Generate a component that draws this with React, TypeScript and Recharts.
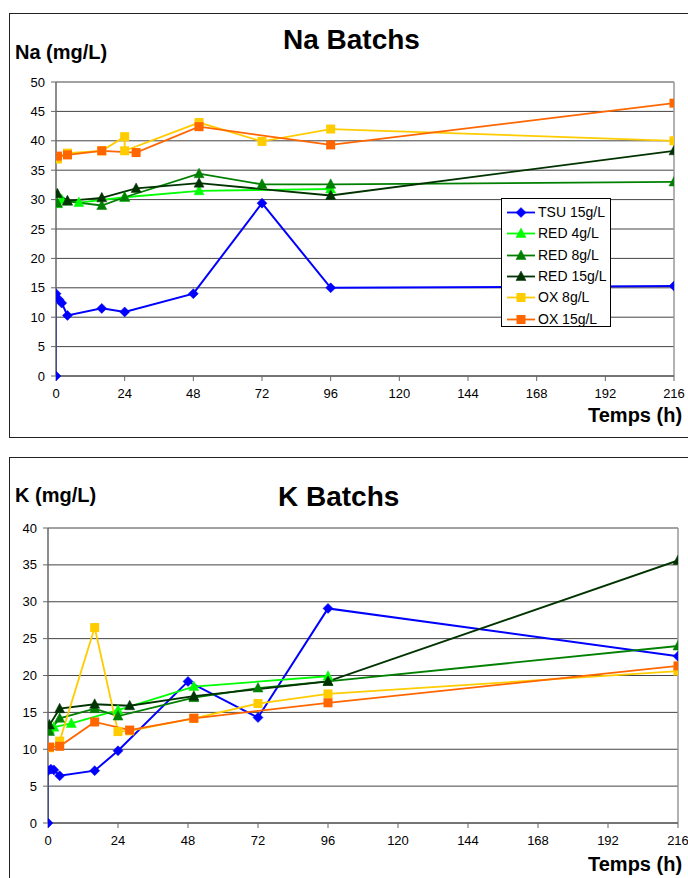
import React from 'react';
import { LineChart, Line, XAxis, YAxis, CartesianGrid, ReferenceLine } from 'recharts';

const timeTicks = [0, 24, 48, 72, 96, 120, 144, 168, 192, 216];
const naTicks = [0, 5, 10, 15, 20, 25, 30, 35, 40, 45, 50];
const kTicks = [0, 5, 10, 15, 20, 25, 30, 35, 40];

const seriesNames = ['TSU 15g/L', 'RED 4g/L', 'RED 8g/L', 'RED 15g/L', 'OX 8g/L', 'OX 15g/L'];
const seriesColors = ['#0000FF', '#00FF00', '#008000', '#003300', '#FFCC00', '#FF6600'];
const seriesMarkers = ['diamond', 'triangle', 'triangle', 'triangle', 'square', 'square'];

// Na (mg/L)
const naTsu15 = [
  { t: 0, v: 0 }, { t: 0, v: 14.0 }, { t: 1, v: 13.0 }, { t: 2, v: 12.4 }, { t: 4, v: 10.3 },
  { t: 16, v: 11.5 }, { t: 24, v: 10.9 }, { t: 48, v: 14.0 }, { t: 72, v: 29.4 }, { t: 96, v: 15.0 }, { t: 216, v: 15.3 },
];
const naRed4 = [
  { t: 0.5, v: 29.3 }, { t: 2, v: 30.0 }, { t: 8, v: 29.5 }, { t: 24, v: 30.4 }, { t: 50, v: 31.5 }, { t: 96, v: 31.8 },
];
const naRed8 = [
  { t: 0.5, v: 29.4 }, { t: 4, v: 29.7 }, { t: 16, v: 29.0 }, { t: 24, v: 30.4 }, { t: 50, v: 34.4 },
  { t: 72, v: 32.6 }, { t: 96, v: 32.6 }, { t: 216, v: 33.0 },
];
const naRed15 = [
  { t: 0.5, v: 31.0 }, { t: 4, v: 29.8 }, { t: 16, v: 30.3 }, { t: 28, v: 31.9 }, { t: 50, v: 32.8 },
  { t: 96, v: 30.7 }, { t: 216, v: 38.3 },
];
const naOx8 = [
  { t: 0.5, v: 36.9 }, { t: 4, v: 37.9 }, { t: 16, v: 38.3 }, { t: 24, v: 40.7 }, { t: 24, v: 38.3 },
  { t: 50, v: 43.1 }, { t: 72, v: 39.9 }, { t: 96, v: 42.0 }, { t: 216, v: 40.0 },
];
const naOx15 = [
  { t: 0.5, v: 37.4 }, { t: 4, v: 37.6 }, { t: 16, v: 38.3 }, { t: 28, v: 38.0 }, { t: 50, v: 42.4 },
  { t: 96, v: 39.3 }, { t: 216, v: 46.4 },
];

// K (mg/L)
const kTsu15 = [
  { t: 0, v: 0 }, { t: 0, v: 7.1 }, { t: 1, v: 7.3 }, { t: 2, v: 7.2 }, { t: 4, v: 6.4 },
  { t: 16, v: 7.1 }, { t: 24, v: 9.8 }, { t: 48, v: 19.2 }, { t: 72, v: 14.3 }, { t: 96, v: 29.1 }, { t: 216, v: 22.6 },
];
const kRed4 = [
  { t: 0.5, v: 12.7 }, { t: 2, v: 13.0 }, { t: 8, v: 13.5 }, { t: 24, v: 15.3 }, { t: 50, v: 18.5 }, { t: 96, v: 19.9 },
];
const kRed8 = [
  { t: 0.5, v: 12.4 }, { t: 4, v: 14.2 }, { t: 16, v: 15.5 }, { t: 24, v: 14.5 }, { t: 50, v: 17.0 },
  { t: 72, v: 18.3 }, { t: 96, v: 19.2 }, { t: 216, v: 24.0 },
];
const kRed15 = [
  { t: 0.5, v: 13.3 }, { t: 4, v: 15.5 }, { t: 16, v: 16.1 }, { t: 28, v: 15.9 }, { t: 50, v: 17.2 },
  { t: 96, v: 19.2 }, { t: 216, v: 35.6 },
];
const kOx8 = [
  { t: 0.5, v: 10.2 }, { t: 4, v: 11.1 }, { t: 16, v: 26.5 }, { t: 24, v: 12.4 }, { t: 28, v: 12.5 },
  { t: 50, v: 14.2 }, { t: 72, v: 16.2 }, { t: 96, v: 17.5 }, { t: 216, v: 20.6 },
];
const kOx15 = [
  { t: 0.5, v: 10.3 }, { t: 4, v: 10.4 }, { t: 16, v: 13.7 }, { t: 28, v: 12.6 }, { t: 50, v: 14.2 },
  { t: 96, v: 16.3 }, { t: 216, v: 21.3 },
];

const naSeries = [naTsu15, naRed4, naRed8, naRed15, naOx8, naOx15];
const kSeries = [kTsu15, kRed4, kRed8, kRed15, kOx8, kOx15];

const FONT = '"Liberation Sans", Arial, sans-serif';

function markerShape(kind: string, cx: number, cy: number, color: string, key?: any) {
  if (kind === 'diamond') {
    return <polygon key={key} points={`${cx},${cy - 5} ${cx + 5},${cy} ${cx},${cy + 5} ${cx - 5},${cy}`} fill={color} stroke={color} strokeWidth={0.5} />;
  }
  if (kind === 'triangle') {
    return <polygon key={key} points={`${cx},${cy - 5.5} ${cx + 5},${cy + 4} ${cx - 5},${cy + 4}`} fill={color} stroke={color} strokeWidth={0.5} />;
  }
  return <rect key={key} x={cx - 4.5} y={cy - 4.5} width={9} height={9} fill={color} />;
}

function makeDot(kind: string, color: string) {
  return (props: any) => {
    const { cx, cy, index } = props;
    if (cx == null || cy == null) return <g key={`d${index}`} />;
    return markerShape(kind, cx, cy, color, `d${index}`);
  };
}

const tickStyle = { fontFamily: FONT, fontSize: 13, fill: '#000' };

function Panel(props: {
  top: number; height: number; series: any[]; yTicks: number[]; yMax: number;
  yWidth: number; marginRight: number; xAxisHeight: number;
}) {
  const { top, height, series, yTicks, yMax, yWidth, marginRight, xAxisHeight } = props;
  return (
    <div style={{ position: 'absolute', left: 0, top, width: 688, height }}>
      <LineChart width={688} height={height} margin={{ top: 82, right: marginRight, left: 0, bottom: 0 }}>
        <CartesianGrid horizontal={true} vertical={false} stroke="#444" strokeWidth={1} />
        <XAxis
          type="number"
          dataKey="t"
          domain={[0, 216]}
          ticks={timeTicks}
          allowDataOverflow
          height={xAxisHeight}
          tick={tickStyle}
          tickSize={5}
          tickMargin={8}
          stroke="#666"
          tickLine={{ stroke: '#666' }}
          axisLine={{ stroke: '#666', strokeWidth: 1.5 }}
        />
        <YAxis
          type="number"
          dataKey="v"
          domain={[0, yMax]}
          ticks={yTicks}
          width={yWidth}
          tick={tickStyle}
          tickSize={5}
          tickMargin={6}
          tickLine={{ stroke: '#666' }}
          axisLine={{ stroke: '#666', strokeWidth: 1.5 }}
        />
        <ReferenceLine x={216} stroke="#999" strokeWidth={1.5} />
        {series.map((data, i) => (
          <Line
            key={seriesNames[i]}
            data={data}
            dataKey="v"
            name={seriesNames[i]}
            type="linear"
            stroke={seriesColors[i]}
            strokeWidth={i === 0 ? 2 : 1.8}
            dot={makeDot(seriesMarkers[i], seriesColors[i])}
            activeDot={false}
            isAnimationActive={false}
          />
        ))}
      </LineChart>
    </div>
  );
}

function LegendBox(props: { left: number; top: number }) {
  return (
    <div style={{
      position: 'absolute', left: props.left, top: props.top, width: 110, height: 129,
      border: '1px solid #000', background: '#fff', boxSizing: 'border-box',
    }}>
      {seriesNames.map((name, i) => (
        <div key={name} style={{ position: 'absolute', left: 0, top: 3 + i * 21.3, height: 21, width: 110 }}>
          <svg width={34} height={21} style={{ position: 'absolute', left: 4, top: 0 }}>
            <line x1={1} y1={10.5} x2={29} y2={10.5} stroke={seriesColors[i]} strokeWidth={1.8} />
            {markerShape(seriesMarkers[i], 15, 10.5, seriesColors[i])}
          </svg>
          <div style={{
            position: 'absolute', left: 36, top: 2, fontFamily: FONT, fontSize: 14, lineHeight: '17px',
            color: '#000', whiteSpace: 'nowrap',
          }}>{name}</div>
        </div>
      ))}
    </div>
  );
}

const textBase: React.CSSProperties = {
  position: 'absolute', fontFamily: FONT, fontWeight: 'bold', color: '#000', whiteSpace: 'nowrap', lineHeight: 1,
};

export default function App() {
  return (
    <div style={{ position: 'absolute', left: 0, top: 0, width: 688, height: 878, overflow: 'hidden', background: '#fff' }}>
      {/* frames */}
      <div style={{ position: 'absolute', left: 9, top: 13, width: 700, height: 425, border: '1px solid #222', boxSizing: 'border-box' }} />
      <div style={{ position: 'absolute', left: 9, top: 457, width: 700, height: 440, border: '1px solid #222', boxSizing: 'border-box' }} />

      <Panel top={0} height={440} series={naSeries} yTicks={naTicks} yMax={50} yWidth={56} marginRight={14} xAxisHeight={64} />
      <Panel top={446} height={432} series={kSeries} yTicks={kTicks} yMax={40} yWidth={48} marginRight={10} xAxisHeight={55} />

      <LegendBox left={501} top={198} />

      <div style={{ ...textBase, left: 283, top: 26, fontSize: 28 }}>Na Batchs</div>
      <div style={{ ...textBase, left: 15, top: 42, fontSize: 20 }}>Na (mg/L)</div>
      <div style={{ ...textBase, left: 588, top: 405, fontSize: 20 }}>Temps (h)</div>

      <div style={{ ...textBase, left: 278, top: 483, fontSize: 28 }}>K Batchs</div>
      <div style={{ ...textBase, left: 15, top: 485, fontSize: 20 }}>K (mg/L)</div>
      <div style={{ ...textBase, left: 588, top: 854, fontSize: 20 }}>Temps (h)</div>
    </div>
  );
}
